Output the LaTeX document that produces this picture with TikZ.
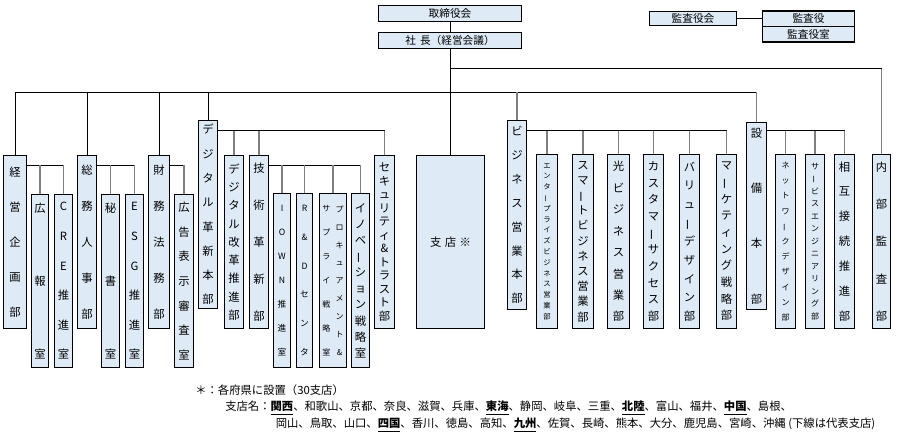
\documentclass[tikz,border=0pt]{standalone}
\usepackage{fontspec}
\usepackage{graphicx}
\usepackage{tikz}
\setmainfont{Noto Sans CJK JP}

\definecolor{boxfill}{RGB}{222,235,247}
\definecolor{linkgray}{RGB}{128,128,128}
% long vowel mark set upright for vertical text
\newcommand\vb{\rotatebox[origin=c]{90}{ー}}
% representative branch
\newcommand\hq[1]{\underline{\textbf{#1}}}

\begin{document}
\begin{tikzpicture}[x=0.75pt,y=0.75pt,yscale=-1,xscale=1,
    dept/.style 2 args={draw=black, line width=0.8pt, fill=boxfill, inner sep=0pt, anchor=north west, align=center, font=\fontsize{#1}{#2}\selectfont},
    wh/.style 2 args={minimum width=#1*0.75pt, minimum height=#2*0.75pt},
    tie/.style={draw=black, line width=0.75pt},
    drop/.style={draw=linkgray, line width=1.2pt},
    note/.style={anchor=west, inner sep=0pt, font=\fontsize{8.5}{10}\selectfont}]
    \useasboundingbox (0,0) rectangle (898,435);

    %Shape: Rectangle -- top
    \node [dept={8}{10}, wh={143}{16}] (tori) at (378,5) {取締役会};
    \node [dept={8}{10}, wh={143}{16}] (shacho) at (378,32) {社\hspace{3pt}長（経営会議）};
    \node [dept={8}{10}, wh={87}{14}] (kansakai) at (649,11) {監査役会};
    \node [dept={8}{10}, wh={92}{15.5}] (kansayaku) at (762,10.5) {監査役};
    \node [dept={8}{10}, wh={92}{15.5}] (kansashitsu) at (762,26) {監査役室};

    %Shape: Rectangle -- staff
    \node [dept={8.5}{26.25}, wh={23}{173}] (keiei) at (3,155) {経\\営\\企\\画\\部};
    \node [dept={8.5}{55}, wh={17}{173}] (kouhou) at (31,194) {広\\報\\室};
    \node [dept={8.5}{22.2}, wh={18}{173}] (cre) at (54,194) {C\\R\\E\\推\\進\\室};
    \node [dept={8.5}{27}, wh={19}{173}] (soumu) at (77,155) {総\\務\\人\\事\\部};
    \node [dept={8.5}{55}, wh={18}{173}] (hisho) at (101,194) {秘\\書\\室};
    \node [dept={8.5}{22.2}, wh={18}{173}] (esg) at (125,194) {E\\S\\G\\推\\進\\室};
    \node [dept={8.5}{27}, wh={21}{173}] (zaimu) at (148,155) {財\\務\\法\\務\\部};
    \node [dept={8.5}{18.4}, wh={19}{173}] (koukoku) at (174,194) {広\\告\\表\\示\\審\\査\\室};

    %Shape: Rectangle -- digital
    \node [dept={8.5}{18.2}, wh={19}{188}] (digital) at (198,120) {デ\\ジ\\タ\\ル\\革\\新\\本\\部};
    \node [dept={8.5}{13.7}, wh={19}{173}] (kaikaku) at (224,155) {デ\\ジ\\タ\\ル\\改\\革\\推\\進\\部};
    \node [dept={8.5}{27.7}, wh={19}{173}] (gijutsu) at (249,155) {技\\術\\革\\新\\部};
    \node [dept={6.5}{17.9}, wh={17}{174}] (iown) at (273,193) {I\\O\\W\\N\\推\\進\\室};
    \node [dept={6.5}{21.5}, wh={16}{174}] (rd) at (296,193) {R\\\&\\D\\セ\\ン\\タ};
    \node [dept={6}{10}, wh={27}{174}] (procure) at (319,193) {\parbox[c]{9pt}{\centering\fontsize{6}{17.9}\selectfont サ\\プ\\ラ\\イ\\戦\\略\\室}\hspace{1pt}\parbox[c]{9pt}{\centering\fontsize{6}{13.4}\selectfont プ\\ロ\\キ\\ュ\\ア\\メ\\ン\\ト\\\&}};
    \node [dept={8.5}{12.1}, wh={18}{174}] (innov) at (351,193) {イ\\ノ\\ベ\\\vb\\シ\\ョ\\ン\\戦\\略\\室};
    \node [dept={8.5}{10.1}, wh={20}{173}] (security) at (374,155) {セ\\キ\\ュ\\リ\\テ\\ィ\\\&\\ト\\ラ\\ス\\ト\\部};

    %Shape: Rectangle -- branches
    \node [dept={8.5}{10}, wh={68}{173}] (shiten) at (416,155) {支\hspace{2.5pt}店\hspace{2.5pt}※};

    %Shape: Rectangle -- business
    \node [dept={8.5}{17.9}, wh={19}{189}] (business) at (507,120) {ビ\\ジ\\ネ\\ス\\営\\業\\本\\部};
    \node [dept={5.5}{8.1}, wh={21}{174}] (enterprise) at (536,154) {エ\\ン\\タ\\\vb\\プ\\ラ\\イ\\ズ\\ビ\\ジ\\ネ\\ス\\営\\業\\部};
    \node [dept={8.5}{11.4}, wh={21}{174}] (smart) at (572,154) {ス\\マ\\\vb\\ト\\ビ\\ジ\\ネ\\ス\\営\\業\\部};
    \node [dept={8.5}{16.1}, wh={22}{174}] (hikari) at (607,154) {光\\ビ\\ジ\\ネ\\ス\\営\\業\\部};
    \node [dept={8.5}{12.5}, wh={20}{174}] (customer) at (643,154) {カ\\ス\\タ\\マ\\\vb\\サ\\ク\\セ\\ス\\部};
    \node [dept={8.5}{14}, wh={20}{174}] (value) at (679,154) {バ\\リ\\ュ\\\vb\\デ\\ザ\\イ\\ン\\部};
    \node [dept={8.5}{12.5}, wh={20}{174}] (marketing) at (716,154) {マ\\\vb\\ケ\\テ\\ィ\\ン\\グ\\戦\\略\\部};

    %Shape: Rectangle -- facilities
    \node [dept={8.5}{41.5}, wh={20}{187}] (setsubi) at (746,122) {設\\備\\本\\部};
    \node [dept={6}{11.4}, wh={20}{174}] (network) at (775,154) {ネ\\ッ\\ト\\ワ\\\vb\\ク\\デ\\ザ\\イ\\ン\\部};
    \node [dept={6}{9.4}, wh={19}{174}] (service) at (805,154) {サ\\\vb\\ビ\\ス\\エ\\ン\\ジ\\ニ\\ア\\リ\\ン\\グ\\部};
    \node [dept={8.5}{18.7}, wh={20}{174}] (sougo) at (834,154) {相\\互\\接\\続\\推\\進\\部};
    \node [dept={8.5}{28}, wh={18}{174}] (naibu) at (872,154) {内\\部\\監\\査\\部};

    % bus levels
    \coordinate (bus) at (0,92);
    \coordinate (bus2) at (0,69);
    \coordinate (staffbus) at (0,165);
    \coordinate (subbus) at (0,130.5);

    %Straight Lines -- top
    \draw [tie] (tori) -- (shacho);
    \draw [tie] (shacho.south) -- (shacho.south |- shiten.north);
    \draw [tie] (kansakai.east) -- (kansakai.east -| kansayaku.west);
    \draw [tie] (shacho.south |- bus2) -- (naibu.north |- bus2);
    \draw [drop] (naibu.north |- bus2) -- (naibu.north);

    %Straight Lines -- main bus
    \draw [tie] (keiei.north |- bus) -- (setsubi.north |- bus);
    \foreach \n in {keiei,soumu,zaimu,digital}
        \draw [tie] (\n.north |- bus) -- (\n.north);
    \foreach \n in {business,setsubi}
        \draw [drop] (\n.north |- bus) -- (\n.north);

    %Straight Lines -- staff groups
    \draw [tie] (keiei.east |- staffbus) -- (cre.north |- staffbus);
    \draw [tie] (soumu.east |- staffbus) -- (esg.north |- staffbus);
    \draw [tie] (zaimu.east |- staffbus) -- (koukoku.north |- staffbus);
    \draw [tie] (gijutsu.east |- staffbus) -- (innov.north |- staffbus);
    \foreach \n in {kouhou,cre,hisho,esg,koukoku,iown,rd,procure,innov}
        \draw [drop] (\n.north |- staffbus) -- (\n.north);

    %Straight Lines -- head office groups
    \draw [tie] (digital.east |- subbus) -- (security.north |- subbus);
    \draw [tie] (business.east |- subbus) -- (marketing.north |- subbus);
    \draw [tie] (setsubi.east |- subbus) -- (sougo.north |- subbus);
    \foreach \n in {kaikaku,gijutsu,security,enterprise,smart,hikari,customer,value,marketing,network,service,sougo}
        \draw [drop] (\n.north |- subbus) -- (\n.north);

    % Text Node
    \node [note] (note1) at (195,390.5) {＊：各府県に設置（30支店）};
    % Text Node
    \node [note] (note2) at (225,408) {支店名：\hq{関西}、和歌山、京都、奈良、滋賀、兵庫、\hq{東海}、静岡、岐阜、三重、\hq{北陸}、富山、福井、\hq{中国}、島根、};
    % Text Node
    \node [note] (note3) at (275.5,425) {岡山、鳥取、山口、\hq{四国}、香川、徳島、高知、\hq{九州}、佐賀、長崎、熊本、大分、鹿児島、宮崎、沖縄 (下線は代表支店)};

\end{tikzpicture}
\end{document}
